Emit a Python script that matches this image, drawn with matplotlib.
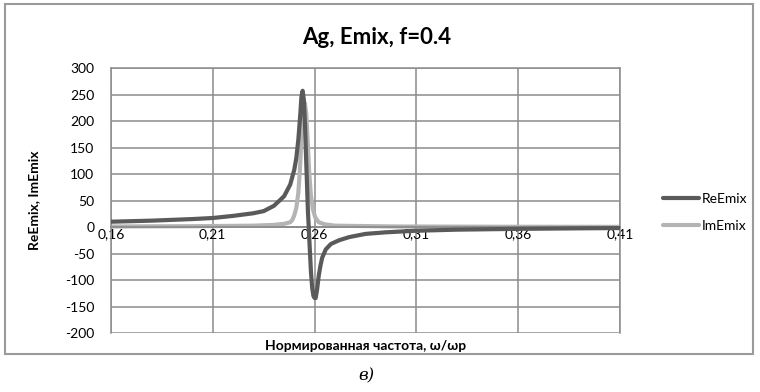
import matplotlib.pyplot as plt
from matplotlib.patches import Rectangle

# normalized frequency and the two curves
w_re = [0.160, 0.170, 0.180, 0.190, 0.200, 0.210, 0.220, 0.230, 0.235, 0.240,
        0.245, 0.248, 0.250, 0.251, 0.252, 0.253, 0.2535, 0.2541, 0.2547, 0.2553,
        0.2558, 0.2563, 0.2567, 0.2571, 0.2576, 0.2582, 0.2588, 0.2594, 0.2600, 0.2605,
        0.2612, 0.2620, 0.2628, 0.2637, 0.2655, 0.2680, 0.2720, 0.2770, 0.2850, 0.2950,
        0.3100, 0.3300, 0.3600, 0.3900, 0.4100]
re_emix = [10, 11, 12, 13.5, 15, 17, 21, 26, 30, 40,
           58, 80, 108, 130, 165, 215, 245, 257, 240, 190,
           130, 75, 30, 0, -40, -85, -115, -130, -134, -134,
           -118, -92, -74, -58, -42, -32, -25, -19, -13, -10,
           -7, -5, -3.5, -2.5, -2]

w_im = [0.160, 0.200, 0.230, 0.240, 0.245, 0.248, 0.249, 0.250, 0.251, 0.252,
        0.2528, 0.2536, 0.2544, 0.2552, 0.2559, 0.2566, 0.2573, 0.2581, 0.2591, 0.2603,
        0.2620, 0.2650, 0.2700, 0.3000, 0.3500, 0.4100]
im_emix = [1, 1.5, 2.5, 4, 6, 9, 13, 22, 36, 65,
           110, 175, 222, 234, 212, 160, 105, 62, 34, 18,
           9, 5, 2.5, 1, 0.5, 0.3]

xticks = [0.16, 0.21, 0.26, 0.31, 0.36, 0.41]
xtick_labels = ['0,16', '0,21', '0,26', '0,31', '0,36', '0,41']
yticks = [-200, -150, -100, -50, 0, 50, 100, 150, 200, 250, 300]

plt.rcParams['font.family'] = ['Lato', 'DejaVu Sans']
plt.rcParams['axes.unicode_minus'] = False

fig = plt.figure(figsize=(7.6, 3.92), dpi=100)
ax = fig.add_axes([0.146, 0.1505, 0.670, 0.676])

grid_c = '#8c8c8c'
ax.plot(w_re, re_emix, color='#5a5a5a', lw=3.0, label='ReEmix', solid_capstyle='round', zorder=3)
ax.plot(w_im, im_emix, color='#b4b4b4', lw=3.0, label='ImEmix', solid_capstyle='round', zorder=2)

ax.set_xlim(0.16, 0.41)
ax.set_ylim(-200, 300)
ax.set_xticks(xticks)
ax.set_xticklabels(xtick_labels)
ax.set_yticks(yticks)
ax.grid(True, color=grid_c, lw=1.1)
ax.set_axisbelow(True)

for s in ['top', 'left', 'right']:
    ax.spines[s].set_color(grid_c)
    ax.spines[s].set_linewidth(1.1)
ax.spines['bottom'].set_position(('data', 0))
ax.spines['bottom'].set_color(grid_c)
ax.spines['bottom'].set_linewidth(1.3)
ax.tick_params(length=0, labelsize=10, colors='black')
ax.tick_params(axis='x', pad=1)
ax.tick_params(axis='y', pad=12)

ax.set_xlabel('Нормированная частота, ω/ωp', fontsize=10, fontweight='bold')
ax.xaxis.set_label_coords(0.5, -0.025)
ax.set_ylabel('ReEmix, ImEmix', fontsize=10, fontweight='bold')
ax.yaxis.set_label_coords(-0.14, 0.5)

fig.text(0.495, 0.905, 'Ag, Emix, f=0.4', ha='center', va='center', fontsize=16, fontweight='bold')

ax.legend(loc='center left', bbox_to_anchor=(1.06, 0.455), frameon=False, fontsize=10,
          handlelength=2.6, labelspacing=1.1, handletextpad=0.2)

fig.patches.append(Rectangle((5 / 760, 1 - 354 / 392), 748 / 760, 350 / 392,
                             transform=fig.transFigure, fill=False, ec='#9a9a9a', lw=1.5))

fig.text(0.482, 1 - 376 / 392, 'в)', ha='center', va='center', fontsize=12,
         style='italic', family='DejaVu Serif')

fig.savefig('out.png', dpi=100)
plt.close()
